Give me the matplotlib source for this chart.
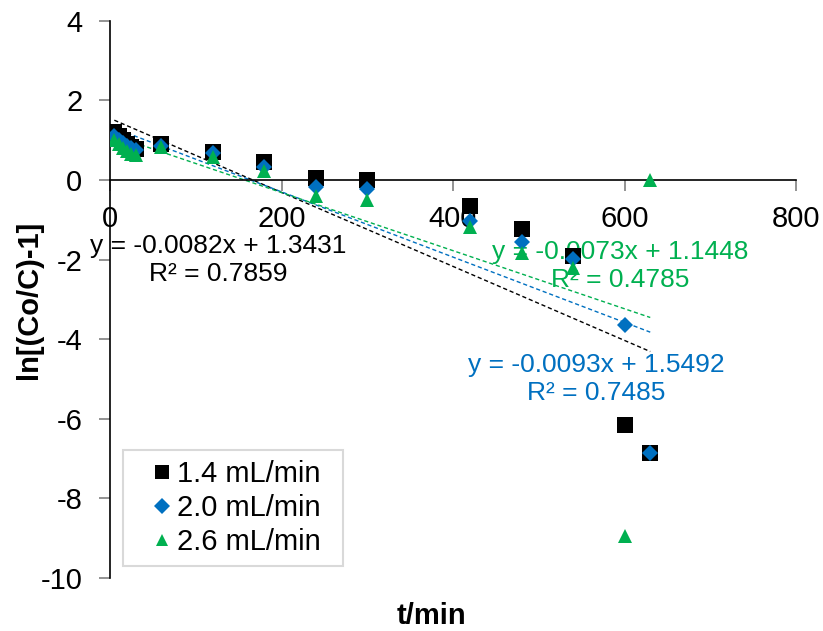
import matplotlib
matplotlib.use("Agg")
import matplotlib.pyplot as plt
from matplotlib.patches import Rectangle
import numpy as np

plt.rcParams['font.family'] = ['Liberation Sans', 'DejaVu Sans']
plt.rcParams['axes.unicode_minus'] = False

# ---- data ----
t = [5, 10, 15, 20, 25, 30, 60, 120, 180, 240, 300, 420, 480, 540, 600, 630]
y_14 = [1.2, 1.1, 1.0, 0.9, 0.82, 0.78, 0.9, 0.7, 0.45, 0.05, 0.0, -0.65, -1.23, -1.92, -6.16, -6.86]
y_20 = [1.1, 1.0, 0.92, 0.85, 0.8, 0.75, 0.85, 0.67, 0.32, -0.17, -0.22, -1.03, -1.56, -1.98, -3.64, -6.87]
y_26 = [1.0, 0.9, 0.8, 0.72, 0.66, 0.62, 0.82, 0.58, 0.22, -0.4, -0.5, -1.17, -1.83, -2.2, -8.95, 0.0]

series_labels = ['1.4 mL/min', '2.0 mL/min', '2.6 mL/min']
# trendline coefficients (slope, intercept) as drawn
slopes = [-0.0093, -0.0082, -0.0073]
intercepts = [1.5492, 1.3431, 1.1448]
# equation labels as displayed
eq_texts = ['y = -0.0082x + 1.3431\nR² = 0.7859',
            'y = -0.0093x + 1.5492\nR² = 0.7485',
            'y = -0.0073x + 1.1448\nR² = 0.4785']
eq_pos = [(126, -2.0), (567, -5.0), (595, -2.16)]

colors = ['#000000', '#0070C0', '#00B050']
markers = ['s', 'D', '^']
msizes = [11, 8.5, 10]

fig = plt.figure(figsize=(8.23, 6.31), dpi=100)
ax = fig.add_axes([0.1337, 0.084, 0.8335, 0.883])

ys = [y_14, y_20, y_26]
for yv, c, m, ms, lab in zip(ys, colors, markers, msizes, series_labels):
    ax.plot(t, yv, linestyle='none', marker=m, color=c, markersize=ms,
            markeredgewidth=0, label=lab, zorder=3)

tx = np.array([min(t), max(t)])
for s, b, c in zip(slopes, intercepts, colors):
    ax.plot(tx, s * tx + b, linestyle=(0, (3, 2)), color=c, linewidth=1.0, zorder=2)

for txt, pos, c in zip(eq_texts, eq_pos, colors):
    ax.text(pos[0], pos[1], txt, color=c, fontsize=19,
            ha='center', va='center', multialignment='center', linespacing=1.2, zorder=2.5)

ax.set_xlim(0, 800)
ax.set_ylim(-10, 4)
ax.set_xticks([0, 200, 400, 600, 800])
ax.set_yticks([4, 2, 0, -2, -4, -6, -8, -10])

ax.spines['top'].set_visible(False)
ax.spines['right'].set_visible(False)
ax.spines['bottom'].set_position(('data', 0))
ax.spines['bottom'].set_linewidth(1.2)
ax.spines['left'].set_linewidth(1.2)
ax.tick_params(axis='both', direction='out', length=8, width=1.2, color='#808080',
               labelsize=21, labelcolor='black')
ax.tick_params(axis='y', pad=12)
ax.tick_params(axis='x', pad=10)

ax.set_xlabel('t/min', fontsize=21, fontweight='bold')
ax.xaxis.set_label_coords(0.468, -0.043)
ax.set_ylabel('ln[(Co/C)-1]', fontsize=21, fontweight='bold')
ax.yaxis.set_label_coords(-0.097, 0.5)

leg = ax.legend(loc='center left', bbox_to_anchor=(0.0547, 0.1257), borderaxespad=0,
                fontsize=21, frameon=False, markerscale=0.92,
                handlelength=1.0, handletextpad=0.0, labelspacing=0.2, borderpad=0)
ax.add_patch(Rectangle((0.019, 0.0215), 0.3397 - 0.019, 0.2298 - 0.0215,
                       transform=ax.transAxes, facecolor='white', edgecolor='#d9d9d9',
                       linewidth=1.5, zorder=4.5))
leg.set_zorder(5)

fig.savefig('out.png', dpi=100)
